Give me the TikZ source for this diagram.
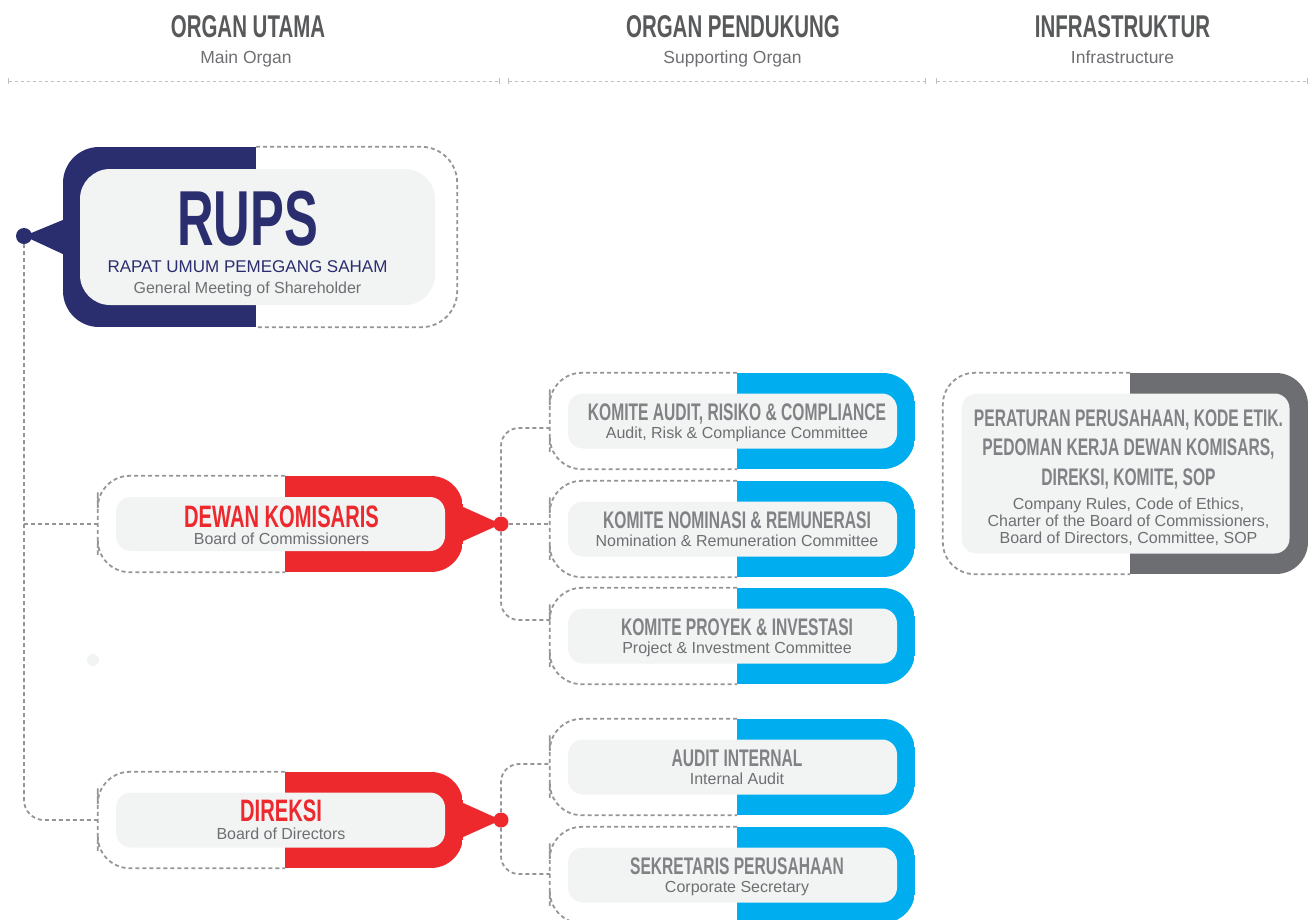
\documentclass[tikz,border=0pt]{standalone}
\usepackage{fontspec}
\setmainfont{Liberation Sans}
\newfontfamily\condfont[FakeStretch=0.65]{Liberation Sans Bold}
\usetikzlibrary{arrows.meta}

\definecolor{rupsblue}{RGB}{43,46,110}
\definecolor{dkred}{RGB}{237,41,46}
\definecolor{cmblue}{RGB}{0,174,239}
\definecolor{infragrey}{RGB}{109,110,113}
\definecolor{boxgrey}{RGB}{242,243,243}
\definecolor{dashgrey}{RGB}{147,149,152}
\definecolor{rulegrey}{RGB}{190,191,193}
\definecolor{titlegrey}{RGB}{128,130,133}
\definecolor{subgrey}{RGB}{110,111,114}
\definecolor{headgrey}{RGB}{88,89,91}

\newcommand{\headtitle}{\condfont\fontsize{31.5}{32}\selectfont\color{headgrey}}
\newcommand{\redtitle}{\condfont\fontsize{31}{32}\selectfont\color{dkred}}
\newcommand{\cmtitle}{\condfont\fontsize{24}{24}\selectfont\color{titlegrey}}

\begin{document}
\begin{tikzpicture}[x=1pt,y=-1pt]
        \tikzstyle{dashline}=[draw=dashgrey,line width=1.8pt,dash pattern=on 4pt off 3pt]
        \tikzstyle{head rule}=[draw=rulegrey,line width=1pt,dash pattern=on 3pt off 3pt,{Bar[width=6pt]}-{Bar[width=6pt]}]
        \tikzstyle{head text}=[inner sep=0pt,anchor=north]
        \tikzstyle{head sub}=[inner sep=0pt,anchor=base,text=subgrey,font=\fontsize{17.5}{18}\selectfont]
        \tikzstyle{outer box}=[rectangle,rounded corners=32,inner sep=0pt]
        \tikzstyle{inner box}=[rectangle,rounded corners=15,fill=boxgrey,inner sep=0pt]
        \tikzstyle{right fill}=[path picture={\fill[#1,sharp corners] ([xshift=4.5pt]path picture bounding box.north) rectangle (path picture bounding box.south east);}]
        \tikzstyle{left fill}=[path picture={\fill[#1,sharp corners] (path picture bounding box.north west) rectangle ([xshift=-4pt]path picture bounding box.south);}]
        \tikzstyle{box text}=[align=center,inner sep=0pt,anchor=north,text=subgrey,font={\fontsize{16}{17.5}\selectfont\lineskiplimit=-30pt}]
        \tikzstyle{solid dot}=[circle,inner sep=0pt,minimum size=15pt]

        \clip (0,0) rectangle (1312,919);

        % Column headings
        \node[head text] (h1) at (248,15) {\headtitle ORGAN UTAMA};
        \node[head sub] (h1s) at (246,63.5) {Main Organ};
        \node[head text] (h2) at (733,15) {\headtitle ORGAN PENDUKUNG};
        \node[head sub] (h2s) at (732.5,63.5) {Supporting Organ};
        \node[head text] (h3) at (1122.5,15) {\headtitle INFRASTRUKTUR};
        \node[head sub] (h3s) at (1122.5,63.5) {Infrastructure};
        \draw[head rule] (8,81) -- (500,81);
        \draw[head rule] (508,81) -- (926,81);
        \draw[head rule] (936,81) -- (1308,81);

        % RUPS
        \node[outer box,left fill=rupsblue,rounded corners=36,minimum width=394pt,minimum height=180pt] (rups) at (260,237) {};
        \draw[dashline,rounded corners=36] ([xshift=-4pt]rups.north) -| (rups.east) |- ([xshift=-4pt]rups.south);
        \node[inner box,rounded corners=30,minimum width=355pt,minimum height=136pt] (rupsi) at (257.5,237) {};
        \node[box text,font={\fontsize{16}{21}\selectfont\lineskiplimit=-60pt}] (rupst) at (247.5,191)
            {{\condfont\fontsize{78}{78}\selectfont\color{rupsblue}RUPS}\\[6pt]
             {\fontsize{17}{17}\selectfont\color{rupsblue}RAPAT UMUM PEMEGANG SAHAM}\\
             General Meeting of Shareholder};
        \node[solid dot,fill=rupsblue,minimum size=16pt] (rdot) at (24,236) {};
        \fill[rupsblue] ([yshift=17pt]rups.west) -- (rdot.center) -- ([yshift=-17pt]rups.west) -- cycle;

        % Dewan Komisaris
        \node[outer box,right fill=dkred,minimum width=365pt,minimum height=96pt] (dk) at (280.5,524) {};
        \draw[dashline,rounded corners=32] ([xshift=4.5pt]dk.north) -| (dk.west) |- ([xshift=4.5pt]dk.south);
        \node[inner box,minimum width=329pt,minimum height=54pt] (dki) at (dk) {};
        \node[box text,font={\fontsize{16}{17.5}\selectfont\lineskiplimit=-30pt}] (dkt) at (281.5,505.5) {{\redtitle DEWAN KOMISARIS}\\Board of Commissioners};
        \node[solid dot,fill=dkred] (dkdot) at (501,524) {};
        \fill[dkred] ([yshift=17pt]dk.east) -- (dkdot.center) -- ([yshift=-17pt]dk.east) -- cycle;

        % Direksi
        \node[outer box,right fill=dkred,minimum width=365pt,minimum height=96pt] (dir) at (280.5,820) {};
        \draw[dashline,rounded corners=32] ([xshift=4.5pt]dir.north) -| (dir.west) |- ([xshift=4.5pt]dir.south);
        \node[inner box,minimum width=329pt,minimum height=55pt] (diri) at (dir) {};
        \node[box text,font={\fontsize{16}{18}\selectfont\lineskiplimit=-30pt}] (dirt) at (281,799.5) {{\redtitle DIREKSI}\\Board of Directors};
        \node[solid dot,fill=dkred] (dirdot) at (501,820) {};
        \fill[dkred] ([yshift=17pt]dir.east) -- (dirdot.center) -- ([yshift=-17pt]dir.east) -- cycle;

        % Committees
        \node[outer box,right fill=cmblue,minimum width=365pt,minimum height=96pt] (k1) at (732.5,421) {};
        \draw[dashline,rounded corners=32] ([xshift=4.5pt]k1.north) -| (k1.west) |- ([xshift=4.5pt]k1.south);
        \node[inner box,minimum width=329pt,minimum height=55pt] (k1i) at (k1) {};
        \node[box text] (k1t) at (737,404) {{\cmtitle KOMITE AUDIT, RISIKO \& COMPLIANCE}\\Audit, Risk \& Compliance Committee};

        \node[outer box,right fill=cmblue,minimum width=365pt,minimum height=96pt] (k2) at (732.5,529) {};
        \draw[dashline,rounded corners=32] ([xshift=4.5pt]k2.north) -| (k2.west) |- ([xshift=4.5pt]k2.south);
        \node[inner box,minimum width=329pt,minimum height=55pt] (k2i) at (k2) {};
        \node[box text] (k2t) at (737,512) {{\cmtitle KOMITE NOMINASI \& REMUNERASI}\\Nomination \& Remuneration Committee};

        \node[outer box,right fill=cmblue,minimum width=365pt,minimum height=96pt] (k3) at (732.5,636) {};
        \draw[dashline,rounded corners=32] ([xshift=4.5pt]k3.north) -| (k3.west) |- ([xshift=4.5pt]k3.south);
        \node[inner box,minimum width=329pt,minimum height=55pt] (k3i) at (k3) {};
        \node[box text] (k3t) at (737,619) {{\cmtitle KOMITE PROYEK \& INVESTASI}\\Project \& Investment Committee};

        \node[outer box,right fill=cmblue,minimum width=365pt,minimum height=96pt] (k4) at (732.5,767) {};
        \draw[dashline,rounded corners=32] ([xshift=4.5pt]k4.north) -| (k4.west) |- ([xshift=4.5pt]k4.south);
        \node[inner box,minimum width=329pt,minimum height=55pt] (k4i) at (k4) {};
        \node[box text] (k4t) at (737,750) {{\cmtitle AUDIT INTERNAL}\\Internal Audit};

        \node[outer box,right fill=cmblue,minimum width=365pt,minimum height=96pt] (k5) at (732.5,875) {};
        \draw[dashline,rounded corners=32] ([xshift=4.5pt]k5.north) -| (k5.west) |- ([xshift=4.5pt]k5.south);
        \node[inner box,minimum width=329pt,minimum height=55pt] (k5i) at (k5) {};
        \node[box text] (k5t) at (737,858) {{\cmtitle SEKRETARIS PERUSAHAAN}\\Corporate Secretary};

        % Infrastructure
        \node[outer box,right fill=infragrey,minimum width=365pt,minimum height=201pt] (inf) at (1125.5,473.5) {};
        \draw[dashline,rounded corners=32] ([xshift=4.5pt]inf.north) -| (inf.west) |- ([xshift=4.5pt]inf.south);
        \node[inner box,minimum width=328pt,minimum height=160pt] (infi) at (inf) {};
        \node[box text,font={\fontsize{16}{17}\selectfont\lineskiplimit=-30pt}] (inft) at (1128.5,409.5)
            {{\cmtitle PERATURAN PERUSAHAAN, KODE ETIK.}\\[12.5pt]
             {\cmtitle PEDOMAN KERJA DEWAN KOMISARS,}\\[12.5pt]
             {\cmtitle DIREKSI, KOMITE, SOP}\\[7pt]
             Company Rules, Code of Ethics,\\
             Charter of the Board of Commissioners,\\
             Board of Directors, Committee, SOP};

        % Dashed connectors
        \draw[dashline,rounded corners=20] (rdot.south) |- (dir.west);
        \draw[dashline] (rdot.south |- dk.west) -- (dk.west);
        \draw[dashline,rounded corners=18] (dkdot.north) |- ([yshift=-7pt]k1.west);
        \draw[dashline] (dkdot.east) -- (dkdot.east -| k2.west);
        \draw[dashline,rounded corners=18] (dkdot.south) |- ([yshift=16pt]k3.west);
        \draw[dashline,rounded corners=18] (dirdot.north) |- ([yshift=3pt]k4.west);
        \draw[dashline,rounded corners=18] (dirdot.south) |- ([yshift=1pt]k5.west);

        \node[solid dot,fill=boxgrey,minimum size=12pt] (spot) at (93,660) {};
    \end{tikzpicture}
\end{document}
